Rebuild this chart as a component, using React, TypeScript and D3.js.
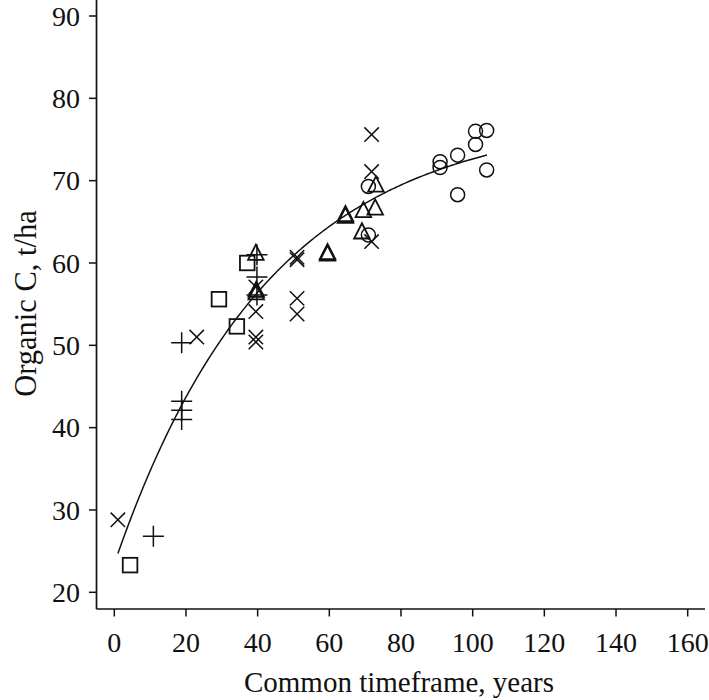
import React from "react";
import * as d3 from "d3";

// ---- data ----
const crossX = [1.0, 23.0, 39.5, 39.5, 39.5, 39.5, 51.0, 51.0, 51.0, 51.0, 71.8, 71.8, 71.8];
const crossY = [28.8, 51.0, 57.1, 54.1, 51.0, 50.4, 60.7, 60.4, 55.7, 53.8, 62.6, 71.1, 75.6];

const plusX = [10.9, 18.8, 18.8, 18.8, 18.8, 39.8, 39.8, 39.8];
const plusY = [26.8, 50.3, 43.2, 42.1, 41.0, 61.0, 58.3, 56.1];

const squareX = [4.4, 29.2, 34.2, 37.1];
const squareY = [23.3, 55.6, 52.3, 60.0];

const triangleX = [39.5, 39.6, 39.6, 59.5, 59.5, 64.5, 64.5, 69.1, 69.5, 72.8, 73.0];
const triangleY = [61.3, 56.8, 56.5, 61.4, 61.2, 66.0, 65.8, 63.9, 66.5, 66.8, 69.6];

const circleX = [70.9, 70.9, 90.9, 90.9, 95.8, 95.8, 100.8, 100.8, 103.9, 103.9];
const circleY = [63.4, 69.3, 72.3, 71.6, 73.1, 68.3, 76.0, 74.4, 76.1, 71.3];

// fitted curve y = A - B * exp(-k x), parameters estimated from the drawn line
const fitA = 78;
const fitB = 54.55;
const fitK = 0.0232;
const fitStart = 1;
const fitEnd = 104;

const xTicks = [0, 20, 40, 60, 80, 100, 120, 140, 160];
const yTicks = [20, 30, 40, 50, 60, 70, 80, 90];

const xTitle = "Common timeframe, years";
const yTitle = "Organic C, t/ha";

export default function App() {
  const W = 709;
  const H = 700;
  const x = d3.scaleLinear().domain([0, 160]).range([114.3, 687.7]);
  const y = d3.scaleLinear().domain([20, 90]).range([592.3, 16]);
  const axisX = 96.5;
  const axisY = 609;
  const font = "'Liberation Serif', 'Times New Roman', serif";
  const fs = 28;
  const fsTitle = 29;
  const fsYTitle = 30.5;
  const ink = "#111";
  const sw = 1.5;

  const curveData = d3.range(fitStart, fitEnd + 0.001, 0.5).map((t) => [t, fitA - fitB * Math.exp(-fitK * t)] as [number, number]);
  const line = d3
    .line<[number, number]>()
    .x((d) => x(d[0]))
    .y((d) => y(d[1]));

  const cr = 7.2; // cross half size
  const pr = 10.5; // plus half size
  const sq = 7.3; // square half side
  const tw = 7.8; // triangle half width
  const th = 7.6; // triangle half height
  const rr = 7; // circle radius

  return (
    <svg width={W} height={H} style={{ position: "absolute", left: 0, top: 0, background: "#fff" }} fontFamily={font}>
      <rect x={0} y={0} width={W} height={H} fill="#fff" />
      {/* axes */}
      <line x1={axisX} y1={0} x2={axisX} y2={axisY} stroke={ink} strokeWidth={1.7} />
      <line x1={axisX} y1={axisY} x2={705} y2={axisY} stroke={ink} strokeWidth={1.7} />
      {yTicks.map((t) => (
        <g key={"yt" + t}>
          <line x1={axisX - 7.5} x2={axisX} y1={y(t)} y2={y(t)} stroke={ink} strokeWidth={1.5} />
          <text x={80} y={y(t)} dy="0.35em" textAnchor="end" fontSize={fs} fill={ink}>
            {t}
          </text>
        </g>
      ))}
      {xTicks.map((t) => (
        <g key={"xt" + t}>
          <line x1={x(t)} x2={x(t)} y1={axisY} y2={axisY + 7.5} stroke={ink} strokeWidth={1.5} />
          <text x={x(t)} y={652} textAnchor="middle" fontSize={fs} fill={ink}>
            {t}
          </text>
        </g>
      ))}
      <text x={399} y={692} textAnchor="middle" fontSize={fsTitle} fill={ink}>
        {xTitle}
      </text>
      <text transform={`translate(36,303.5) rotate(-90)`} textAnchor="middle" fontSize={fsYTitle} fill={ink}>
        {yTitle}
      </text>

      {/* fitted curve */}
      <path d={line(curveData) || ""} fill="none" stroke={ink} strokeWidth={1.5} />

      {/* markers */}
      <g fill="none" stroke={ink} strokeWidth={sw}>
        {crossX.map((v, i) => (
          <path
            key={"c" + i}
            d={`M${x(v) - cr},${y(crossY[i]) - cr}L${x(v) + cr},${y(crossY[i]) + cr}M${x(v) - cr},${y(crossY[i]) + cr}L${x(v) + cr},${y(crossY[i]) - cr}`}
          />
        ))}
        {plusX.map((v, i) => (
          <path
            key={"p" + i}
            d={`M${x(v) - pr},${y(plusY[i])}H${x(v) + pr}M${x(v)},${y(plusY[i]) - pr}V${y(plusY[i]) + pr}`}
          />
        ))}
        {squareX.map((v, i) => (
          <rect key={"s" + i} x={x(v) - sq} y={y(squareY[i]) - sq} width={2 * sq} height={2 * sq} strokeWidth={1.8} />
        ))}
        {triangleX.map((v, i) => (
          <path
            key={"t" + i}
            d={`M${x(v)},${y(triangleY[i]) - th}L${x(v) + tw},${y(triangleY[i]) + th}L${x(v) - tw},${y(triangleY[i]) + th}Z`}
            strokeWidth={1.8}
          />
        ))}
        {circleX.map((v, i) => (
          <circle key={"o" + i} cx={x(v)} cy={y(circleY[i])} r={rr} />
        ))}
      </g>
    </svg>
  );
}
